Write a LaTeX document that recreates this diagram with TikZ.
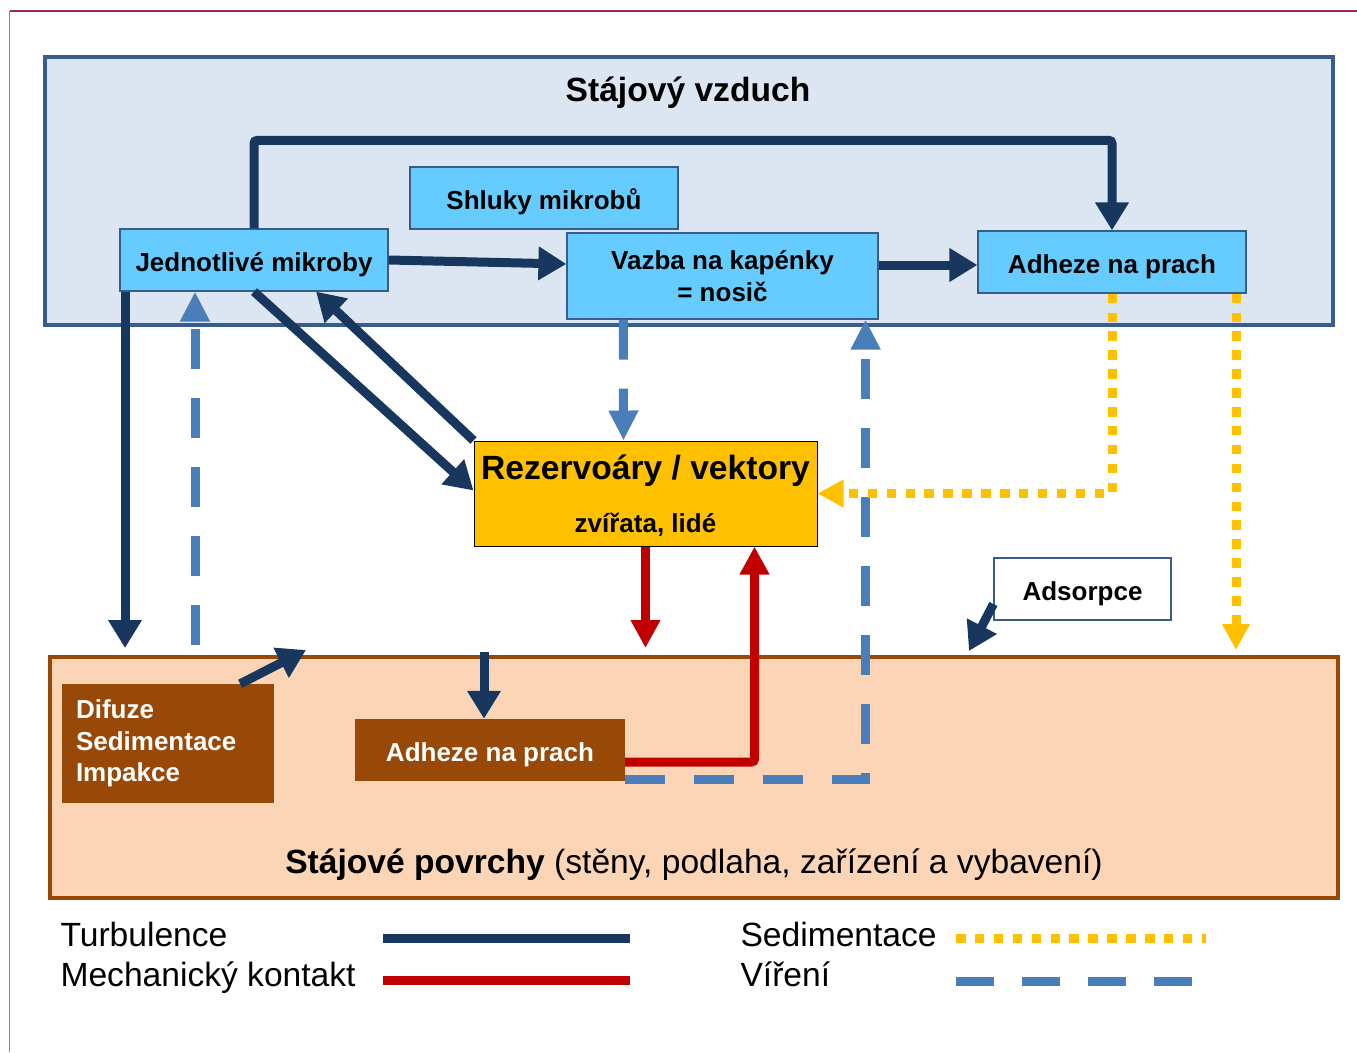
\documentclass[tikz,border=0pt]{standalone}
\usepackage{fontspec}
\setmainfont{Liberation Sans}
\usepackage{tikz}
\usetikzlibrary{arrows.meta,calc}
\definecolor{cTurb}{RGB}{23,55,94}
\definecolor{cWirl}{RGB}{74,126,187}
\definecolor{cSedi}{RGB}{255,192,0}
\definecolor{cMech}{RGB}{192,0,0}
\definecolor{cAir}{RGB}{220,230,242}
\definecolor{cAirLine}{RGB}{56,93,138}
\definecolor{cSky}{RGB}{102,204,255}
\definecolor{cSurf}{RGB}{251,213,181}
\definecolor{cSoil}{RGB}{152,72,7}
\definecolor{cFrame}{RGB}{150,45,80}
\newcommand\bigsize{\fontsize{33.6}{40}\selectfont}
\newcommand\midsize{\fontsize{26}{31.5}\selectfont}

\begin{document}
\begin{tikzpicture}[x=1pt,y=-1pt,
  cell/.style={draw=cAirLine, line width=1.2pt, fill=cSky, minimum width=268pt, minimum height=62pt,
               inner sep=0pt, align=center, font=\midsize\bfseries},
  oneline/.style={text height=23pt, text depth=0pt},
  soilbox/.style={fill=cSoil, text=white, inner sep=0pt, font=\midsize\bfseries},
  turbline/.style={cTurb, line width=9pt, rounded corners=3pt, -{Triangle[width=32pt,length=28pt]}},
  mechline/.style={cMech, line width=9pt, rounded corners=3pt, -{Triangle[width=28pt,length=28pt]}},
  wirlline/.style={cWirl, line width=9pt, dash pattern=on 40pt off 29pt, -{Triangle[width=28pt,length=30pt]}},
  sediline/.style={cSedi, line width=9pt, dash pattern=on 9.5pt off 9.4pt, -{Triangle[width=26pt,length=26pt]}},
]
\useasboundingbox (0,0) rectangle (1357,1052);
\draw[cFrame, line width=1.5pt] (9.5,11) -- (1357,11);
\draw[cFrame!70, line width=1pt] (9.5,11) -- (9.5,1052);

\node[draw=cAirLine, line width=4pt, fill=cAir, minimum width=1288pt, minimum height=268pt] (air) at (689,191) {};
\node[font=\bigsize\bfseries] (airT) at (688,93) {Stájový vzduch};
\node[draw=cSoil, line width=3.5pt, fill=cSurf, minimum width=1288pt, minimum height=241pt] (surf) at (694,777.5) {};
\node[font=\bigsize] (surfT) at (694,865) {\textbf{Stájové povrchy} (stěny, podlaha, zařízení a vybavení)};

\node[cell, oneline] (jm) at (254,260) {Jednotlivé mikroby};
\node[cell, oneline] (shl) at (544,198) {Shluky mikrobů};
\node[cell, minimum width=311pt, minimum height=86pt] (vaz) at (722.5,276) {Vazba na kapénky\\= nosič};
\node[cell, oneline] (adt) at (1112,262) {Adheze na prach};
\node[draw, line width=1pt, fill=cSedi, minimum width=343pt, minimum height=105pt, inner sep=0pt,
      align=center, font=\midsize\bfseries, text depth=0pt] (rez) at (645.5,493.5)
  {{\bigsize Rezervoáry / vektory}\\[22pt]zvířata, lidé};
\node[draw=cAirLine, line width=1.2pt, fill=white, minimum width=177pt, minimum height=62pt, inner sep=0pt,
      oneline, font=\midsize\bfseries] (ads) at (1082.5,589) {Adsorpce};
\node[soilbox, minimum width=212pt, minimum height=119pt, text width=184pt, align=left] (dif) at (168,743.5)
  {Difuze\\Sedimentace\\Impakce};
\node[soilbox, oneline, minimum width=270pt, minimum height=62pt] (adb) at (490,750) {Adheze na prach};

\coordinate (turbDown) at (125,648);
\coordinate (wirlUp) at (195,645);
\coordinate (sediDown) at (1236,650);
\coordinate (mechDown) at (645.5,648);
\coordinate (turbIn) at (484,652);
\coordinate (difOut) at (306,650);
\coordinate (adsIn) at (969,651);

\draw[turbline] (jm.north) -- ++(0,-88) -| (adt.north);
\draw[turbline] (jm.east) -- ([yshift=12pt]vaz.west);
\draw[turbline] ([yshift=11pt]vaz.east) -- ([yshift=-3pt]adt.west);
\draw[turbline] (turbDown |- jm.south) -- (turbDown);
\draw[turbline] (jm.south) -- ([yshift=3pt]rez.west);
\draw[turbline] (rez.north west) -- ($(jm.south)+(62,0)$);
\draw[turbline] (turbIn) -- (turbIn |- adb.north);
\draw[turbline] ([xshift=-34pt]dif.north east) -- (difOut);
\draw[turbline] ([yshift=-15pt]ads.west) -- (adsIn);

\draw[wirlline] (wirlUp) -- (wirlUp |- jm.south);
\draw[wirlline] ([xshift=57pt]vaz.south west) -- ([xshift=150pt]rez.north west);
\draw[wirlline] ([yshift=2pt]adb.south east) -| ([xshift=-13pt]vaz.south east);

\draw[sediline] (adt.south) |- (rez.east);
\draw[sediline] (sediDown |- adt.south) -- (sediDown);

\draw[mechline] (rez.south) -- (mechDown);
\draw[mechline] ([yshift=-12pt]adb.east) -| ([xshift=-63pt]rez.south east);

\node[font=\bigsize, anchor=base west] (lgTurb) at (57,946) {Turbulence};
\node[font=\bigsize, anchor=base west] (lgMech) at (57,986) {Mechanický kontakt};
\node[font=\bigsize, anchor=base west] (lgSedi) at (737,946) {Sedimentace};
\node[font=\bigsize, anchor=base west] (lgWirl) at (737,986) {Víření};
\draw[turbline, -] (383,938) -- (630,938);
\draw[mechline, -] (383,980) -- (630,980);
\draw[sediline, -] (956,938) -- (1206,938);
\draw[wirlline, -, dash pattern=on 38pt off 28pt] (956,981) -- (1192,981);
\end{tikzpicture}
\end{document}
